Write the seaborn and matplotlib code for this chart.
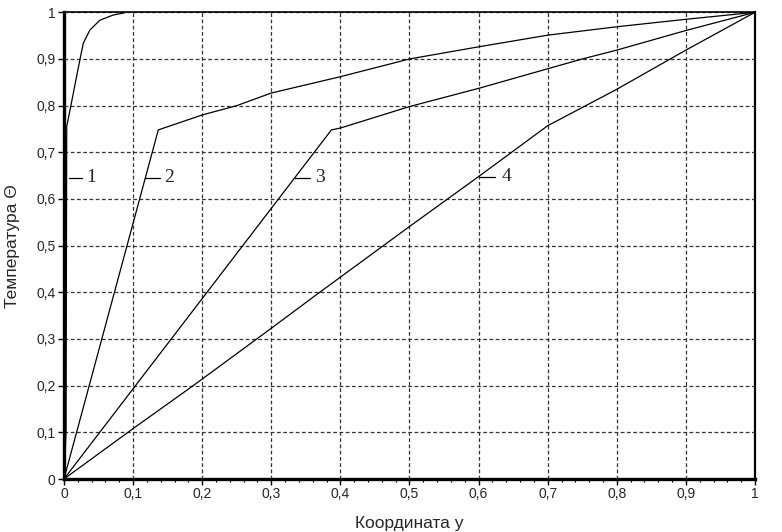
import numpy as np
import pandas as pd
import matplotlib
matplotlib.use("Agg")
import matplotlib.pyplot as plt
import matplotlib.ticker as mticker
import seaborn as sns

# данные кривых
curve1_x = [0, 0.003, 0.004, 0.023, 0.028, 0.0375, 0.052, 0.071, 0.088]
curve1_y = [0, 0.10, 0.755, 0.898, 0.934, 0.962, 0.983, 0.994, 0.999]

curve2_x = [0, 0.1365, 0.2, 0.25, 0.3, 0.4, 0.5, 0.6, 0.7, 0.8, 0.9, 1.0]
curve2_y = [0, 0.748, 0.78, 0.80, 0.827, 0.862, 0.90, 0.926, 0.951, 0.969, 0.985, 1.0]

curve3_x = [0, 0.387, 0.4, 0.5, 0.6, 0.7, 0.75, 0.8, 0.9, 1.0]
curve3_y = [0, 0.748, 0.752, 0.798, 0.837, 0.879, 0.90, 0.919, 0.961, 1.0]

curve4_x = [0, 0.1, 0.187, 0.3, 0.37, 0.5, 0.6, 0.7, 0.8, 0.9, 1.0]
curve4_y = [0, 0.108, 0.2, 0.323, 0.4, 0.541, 0.648, 0.757, 0.835, 0.919, 1.0]

curve_names = ["1", "2", "3", "4"]

# подписи кривых
label_x = [0.040, 0.152, 0.370, 0.641]
label_y = [0.645, 0.645, 0.645, 0.648]
leader_x0 = [0.007, 0.117, 0.334, 0.602]
leader_x1 = [0.026, 0.139, 0.356, 0.624]

sns.set_style("white")
plt.rcParams['font.family'] = ['Liberation Sans', 'DejaVu Sans']

frames = []
for name, xs, ys in zip(curve_names,
                        [curve1_x, curve2_x, curve3_x, curve4_x],
                        [curve1_y, curve2_y, curve3_y, curve4_y]):
    frames.append(pd.DataFrame({"y": xs, "theta": ys, "curve": name}))
df = pd.concat(frames, ignore_index=True)

fig = plt.figure(figsize=(7.82, 5.32), dpi=100)
ax = fig.add_axes([0.0818, 0.0996, 0.8837, 0.8773])

sns.lineplot(data=df, x="y", y="theta", units="curve", estimator=None,
             sort=False, color="black", linewidth=0.9, ax=ax, zorder=3)

for i, name in enumerate(curve_names):
    ax.plot([leader_x0[i], leader_x1[i]], [label_y[i], label_y[i]],
            color="black", linewidth=0.9, zorder=3)
    ax.text(label_x[i], label_y[i], name, ha="center", va="center",
            fontsize=14, family=['Liberation Serif', 'DejaVu Serif'])

ax.set_xlim(0, 1)
ax.set_ylim(0, 1)
ax.xaxis.set_major_locator(mticker.MultipleLocator(0.1))
ax.yaxis.set_major_locator(mticker.MultipleLocator(0.1))
ax.xaxis.set_minor_locator(mticker.MultipleLocator(0.02))


def comma_fmt(v, pos):
    if abs(v) < 1e-9:
        return "0"
    if abs(v - 1) < 1e-9:
        return "1"
    return ("%.1f" % v).replace(".", ",")


ax.xaxis.set_major_formatter(mticker.FuncFormatter(comma_fmt))
ax.yaxis.set_major_formatter(mticker.FuncFormatter(comma_fmt))

ax.grid(True, which="major", color="#333333", linestyle=(0, (3, 2)), linewidth=0.9)
ax.set_axisbelow(True)

ax.tick_params(axis="both", which="major", direction="out", length=4, width=1,
               color="black", labelsize=10, pad=2)
ax.tick_params(axis="x", which="minor", direction="out", length=2.5, width=0.8,
               color="black", bottom=True)
ax.tick_params(axis="x", which="major", bottom=True, pad=1.5)
ax.tick_params(axis="y", which="major", left=True)

for side, lw in [("left", 2.4), ("bottom", 2.4), ("top", 1.2), ("right", 1.6)]:
    ax.spines[side].set_visible(True)
    ax.spines[side].set_color("black")
    ax.spines[side].set_linewidth(lw)

ax.set_xlabel("Координата y", fontsize=12.5, labelpad=11)
ax.set_ylabel("Температура Θ", fontsize=12.5, labelpad=12)

fig.savefig("out.png", dpi=100)
